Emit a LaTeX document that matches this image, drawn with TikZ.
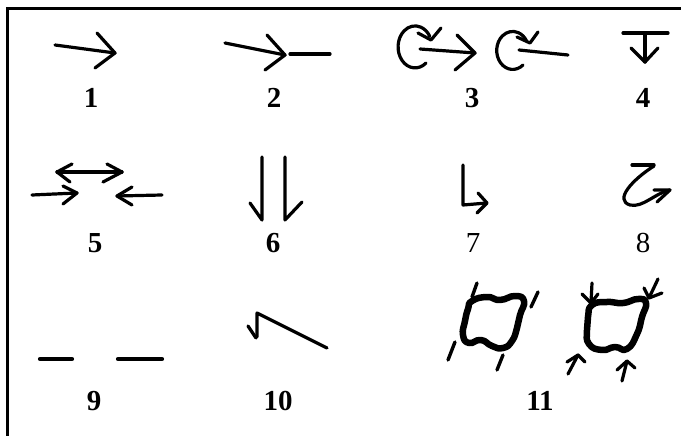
\documentclass[tikz,border=0pt]{standalone}
\usepackage{fontspec}
\setmainfont{Liberation Serif}
\tikzset{
  stroke/.style={line width=3.2pt, line cap=round, line join=round},
  thick9/.style={line width=4.2pt, line cap=round},
  blob/.style={line width=6.5pt, line join=round},
  tick/.style={line width=3.4pt, line cap=round},
  lab/.style={anchor=base, inner sep=0pt, font=\fontsize{29}{29}\selectfont\bfseries},
  labr/.style={anchor=base, inner sep=0pt, font=\fontsize{29}{29}\selectfont},
}
\begin{document}
\begin{tikzpicture}[x=1pt,y=-1pt]
\useasboundingbox (0,0) rectangle (681,436);
% frame (left and top edges)
\draw[line width=3pt] (7.5,436) -- (7.5,8.7) -- (681,8.7);

% 1
\draw[stroke] (55,45) -- (115,53);
\draw[stroke] (97,33) -- (115,53) -- (95,68);
\node[lab] (l1) at (91,108) {1};

% 2
\draw[stroke] (225,43) -- (285,55);
\draw[stroke] (267,35) -- (285,55) -- (265,70);
\draw[stroke] (290,54) -- (330,54);
\node[lab] (l2) at (274,108) {2};

% 3
\draw[stroke] (426,63) arc[start angle=50, end angle=330, x radius=17, y radius=21];
\draw[stroke] (418,33) -- (431,40) -- (441,28);
\draw[stroke] (420,49) -- (475,53);
\draw[stroke] (457,35) -- (475,53) -- (455,70);
\draw[stroke] (523,65) arc[start angle=50, end angle=330, x radius=16, y radius=19];
\draw[stroke] (517,37) -- (530,43) -- (538,32);
\draw[stroke] (519,50) -- (568,55);
\node[lab] (l3) at (472,108) {3};

% 4
\draw[stroke] (623,33) -- (668,33);
\draw[stroke] (645,35) -- (645,62);
\draw[stroke] (631,48) -- (645,62) -- (658,48);
\node[lab] (l4) at (643,108) {4};

% 5
\draw[stroke] (57,172) -- (122,172);
\draw[stroke] (72,164) -- (57,172) -- (70,182);
\draw[stroke] (107,164) -- (122,172) -- (103,182);
\draw[stroke] (32,195) -- (77,193);
\draw[stroke] (63,186) -- (77,193) -- (63,204);
\draw[stroke] (162,195) -- (117,196);
\draw[stroke] (132,187) -- (117,196) -- (132,205);
\node[lab] (l5) at (95,252) {5};

% 6
\draw[stroke] (262,157) -- (262,220) -- (250,203);
\draw[stroke] (285,157) -- (285,220) -- (302,202);
\node[lab] (l6) at (273,252) {6};

% 7
\draw[stroke] (463,165) -- (463,205) -- (487,203);
\draw[stroke] (478,193) -- (487,203) -- (477,213);
\node[labr] (l7) at (473,252) {7};

% 8
\draw[stroke] (632,165) -- (654,165);
\draw[stroke] (654,166) .. controls (632,180) and (614,200) .. (630,205)
      .. controls (643,208) and (655,193) .. (670,190);
\draw[stroke] (654,190) -- (670,190) -- (657,202);
\node[labr] (l8) at (643,252) {8};

% 9
\draw[thick9] (40,359) -- (72,359);
\draw[thick9] (118,359) -- (162,359);
\node[lab] (l9) at (94,410) {9};

% 10
\draw[stroke] (327,348) -- (257,313) -- (257,337);
\draw[stroke] (248,326) -- (256,338);
\node[lab] (l10) at (278,410) {10};

% 11 left blob
\draw[blob] plot[smooth cycle, tension=0.9] coordinates {
  (472,301) (487,297) (500,300) (515,296) (524,301)
  (520,315) (517,328) (512,341) (503,348)
  (492,346) (481,340) (469,343) (463,335)
  (465,321) (468,309)};
\draw[tick] (477,283) -- (472,297);
\draw[tick] (538,292) -- (531,307);
\draw[tick] (455,342) -- (448,360);
\draw[tick] (503,355) -- (497,370);

% 11 right blob
\draw[blob] plot[smooth cycle, tension=0.9] coordinates {
  (592,305) (607,302) (623,303) (638,299) (646,303)
  (642,317) (637,334) (627,349)
  (615,347) (602,350) (589,344)
  (587,330) (588,317)};
\draw[stroke] (592,283) -- (591,303);
\draw[stroke] (582,294) -- (591,303) -- (598,294);
\draw[stroke] (658,279) -- (649,298);
\draw[stroke] (644,288) -- (649,298) -- (662,293);
\draw[stroke] (568,374) -- (578,355);
\draw[stroke] (567,362) -- (578,355) -- (585,362);
\draw[stroke] (622,381) -- (627,361);
\draw[stroke] (617,370) -- (627,361) -- (635,368);
\node[lab] (l11) at (540,410) {11};
\end{tikzpicture}
\end{document}
